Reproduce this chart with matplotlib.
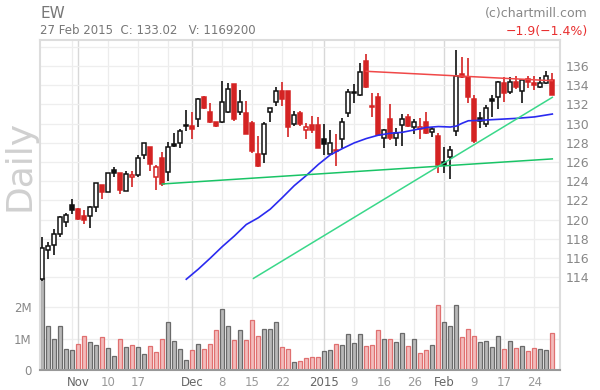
import matplotlib
matplotlib.use('Agg')
import matplotlib.pyplot as plt

# daily bars, 24 Oct 2014 .. 27 Feb 2015 (index 0..85)
opens = [113.8, 116.81, 117.33, 118.47, 119.79, 121.53, 121.11, 120.38, 120.42, 121.35,
         123.61, 122.92, 125.17, 124.82, 123.02, 124.41, 124.65, 126.7, 127.6, 124.41,
         126.39, 124.93, 127.84, 127.95, 129.75, 129.75, 130.45, 132.74, 131.25, 130.2,
         130.13, 131.24, 134.13, 131.18, 131.11, 130.03, 126.84, 126.8, 131.18, 132.29,
         133.4, 133.4, 129.93, 131.07, 129.3, 129.86, 129.86, 128.36, 126.8, 127.3,
         128.36, 131.14, 133.22, 132.98, 136.52, 131.85, 132.74, 128.54, 130.45, 128.54,
         129.86, 130.72, 129.61, 129.4, 130.2, 129.1, 128.71, 125.98, 126.56, 129.23,
         135.17, 134.89, 132.53, 130.55, 129.93, 132.53, 132.81, 134.2, 133.33, 134.37,
         133.43, 134.61, 134.2, 133.78, 134.2, 134.54]
highs = [118.15, 117.67, 118.99, 120.38, 120.73, 122.12, 121.18, 121.01, 121.42, 123.78,
         123.61, 124.9, 125.52, 124.82, 125.07, 125.1, 126.73, 128.02, 127.6, 125.66,
         127.05, 128.09, 128.99, 129.41, 131.42, 131.25, 132.63, 132.88, 132.18, 130.2,
         134.47, 134.2, 134.13, 133.5, 132.36, 130.27, 128.71, 130.17, 131.59, 133.85,
         134.37, 133.4, 131.31, 131.31, 130.03, 130.79, 130.65, 129.96, 129.34, 128.89,
         130.55, 133.57, 134.13, 136.35, 137.25, 133.2, 133.2, 129.41, 132.04, 129.51,
         131.0, 131.0, 130.51, 130.55, 131.25, 129.68, 129.06, 127.6, 127.67, 137.67,
         136.97, 136.87, 132.98, 131.17, 131.94, 132.98, 134.4, 134.82, 134.82, 134.96,
         134.61, 135.0, 134.99, 134.82, 135.5, 135.24]
lows = [113.65, 115.87, 116.29, 118.23, 119.27, 120.56, 119.97, 119.55, 119.17, 120.83,
        122.19, 122.9, 124.48, 122.67, 123.0, 123.44, 124.48, 126.28, 125.1, 123.09,
        123.51, 124.06, 127.6, 127.43, 129.27, 128.43, 129.62, 131.49, 130.03, 129.62,
        130.03, 131.14, 130.31, 130.9, 128.89, 126.91, 125.52, 125.87, 130.2, 131.87,
        131.87, 128.64, 129.75, 129.75, 128.36, 129.06, 127.43, 126.73, 126.73, 125.59,
        127.5, 130.72, 132.11, 132.9, 133.7, 130.65, 128.71, 127.43, 128.3, 127.67,
        127.67, 129.62, 128.92, 128.43, 128.92, 128.57, 124.9, 124.9, 124.2, 128.75,
        134.79, 132.11, 127.95, 129.51, 129.62, 130.72, 131.49, 132.22, 133.08, 133.6,
        132.11, 133.67, 133.5, 133.67, 134.09, 132.98]
closes = [117.02, 117.23, 118.47, 120.24, 120.49, 121.01, 120.07, 119.97, 121.28, 123.78,
          122.88, 124.82, 124.89, 123.09, 124.72, 124.65, 126.39, 128.02, 125.76, 125.52,
          123.72, 127.6, 127.67, 129.27, 129.78, 129.48, 132.53, 131.59, 130.13, 129.75,
          132.22, 133.57, 130.48, 132.25, 128.95, 127.18, 125.59, 129.93, 131.59, 133.4,
          132.56, 129.68, 130.86, 129.96, 129.61, 129.34, 127.5, 127.84, 127.95, 127.2,
          130.13, 133.26, 133.32, 135.41, 133.78, 131.75, 128.78, 129.34, 128.54, 128.99,
          130.45, 129.75, 130.2, 129.7, 128.99, 129.41, 125.65, 125.72, 127.25, 134.96,
          134.89, 132.74, 128.23, 130.3, 131.66, 132.4, 134.37, 133.15, 134.3, 133.85,
          134.54, 134.37, 134.05, 134.26, 134.92, 133.02]
volumes = [2.95, 1.4, 1.0, 1.4, 0.67, 0.65, 0.83, 1.08, 0.88, 0.8,
           1.05, 0.7, 0.45, 0.98, 0.73, 0.8, 0.73, 0.5, 0.77, 0.57,
           0.98, 1.52, 0.92, 0.67, 0.32, 0.63, 0.82, 0.67, 0.82, 1.28,
           1.93, 1.4, 0.95, 1.27, 0.95, 1.58, 1.08, 1.3, 1.3, 1.52,
           0.73, 0.67, 0.25, 0.27, 0.37, 0.4, 0.4, 0.6, 0.63, 0.82,
           0.79, 1.14, 0.85, 1.14, 0.76, 0.79, 1.27, 0.98, 0.98, 0.88,
           1.17, 0.76, 0.98, 0.53, 0.63, 0.79, 2.06, 1.52, 1.39, 2.06,
           1.04, 1.3, 1.07, 0.88, 0.91, 0.72, 1.07, 0.66, 0.91, 0.69,
           0.76, 0.6, 0.69, 0.66, 0.63, 1.17]  # millions

tick_idx = [6, 11, 16, 25, 30, 35, 40, 47, 52, 57, 62, 67, 72, 77, 82]
tick_lbl = ['Nov', '10', '17', 'Dec', '8', '15', '22', '2015', '9', '16', '26', 'Feb', '9', '17', '24']
month_idx = [6, 25, 47, 67]
week_idx = [5, 11, 16, 21, 30, 35, 40, 45, 52, 57, 62, 72, 77, 82]

# moving average
ma_idx = [24, 26, 28, 30, 32, 34, 36, 38, 40, 42, 44, 46, 48, 50, 52, 54, 56, 58, 60,
          62, 64, 66, 68, 69, 70, 71, 73, 76, 79, 82, 85]
ma_val = [113.8, 114.85, 116.0, 117.2, 118.3, 119.5, 120.2, 121.1, 122.3, 123.55, 124.6,
          125.75, 126.75, 127.4, 128.0, 128.45, 128.8, 129.0, 129.1, 129.35, 129.6, 129.7,
          129.65, 129.75, 130.05, 130.3, 130.35, 130.45, 130.55, 130.7, 131.0]

# trend lines (start/end index, price)
res_x, res_y = [54, 85], [135.45, 134.47]
sup1_x, sup1_y = [20, 85], [123.72, 126.33]
sup2_x, sup2_y = [35.2, 85], [113.89, 132.74]

RED = '#d42323'
BLACK = '#111111'

fig = plt.figure(figsize=(6, 3.9), dpi=100)
ax = fig.add_axes([40 / 600, 20 / 390, 520 / 600, 330 / 390])
vax = ax.twinx()
ax.set_zorder(2)
vax.set_zorder(1)
ax.patch.set_visible(False)

n = len(closes)
ax.set_xlim(-0.38, 86.28)
ax.set_ylim(104.35, 138.71)
vax.set_ylim(0, 330 / 31.5)

# grid
for lvl in range(114, 139, 2):
    ax.axhline(lvl, color='#eeeeee', lw=0.9, zorder=0)
for lvl in [1, 2]:
    vax.axhline(lvl, color='#eeeeee', lw=0.9, zorder=0)
for i in week_idx:
    vax.axvline(i, color='#ececec', lw=0.9, zorder=0)
for i in month_idx:
    vax.axvline(i, color='#d8d8d8', lw=1.0, zorder=0)

# volume
for i in range(n):
    up = i == 0 or closes[i] >= closes[i - 1]
    vax.bar(i, volumes[i], width=0.72,
            facecolor='#b8b8b8' if up else '#f3bcbc',
            edgecolor='#6a6a6a' if up else '#e07070', lw=0.9, zorder=2)

# candles
for i in range(n):
    up = i == 0 or closes[i] >= closes[i - 1]
    c = BLACK if up else RED
    fill = 'white' if closes[i] > opens[i] else c
    ax.vlines(i, lows[i], highs[i], color=c, lw=1.2, zorder=3)
    h = max(abs(closes[i] - opens[i]), 0.06)
    ax.bar(i, h, bottom=min(opens[i], closes[i]), width=0.72,
           facecolor=fill, edgecolor=c, lw=1.1, zorder=4)

ax.plot(ma_idx, ma_val, color='#2a2af0', lw=1.2, zorder=5)
ax.plot(res_x, res_y, color='#f04848', lw=1.1, zorder=5)
ax.plot(sup1_x, sup1_y, color='#19c466', lw=1.1, zorder=5)
ax.plot(sup2_x, sup2_y, color='#3ad88a', lw=1.1, zorder=5)

# axes / ticks
ax.yaxis.tick_right()
ax.set_yticks(range(114, 137, 2))
ax.set_yticklabels([str(v) for v in range(114, 137, 2)])
ax.tick_params(axis='y', length=0, pad=4, labelsize=9, labelcolor='#888888')
ax.set_xticks(tick_idx)
ax.set_xticklabels(tick_lbl)
ax.tick_params(axis='x', length=0, pad=4, labelsize=8.5)
for lab, i in zip(ax.get_xticklabels(), tick_idx):
    lab.set_color('#666666' if i in month_idx else '#999999')

vax.yaxis.tick_left()
vax.set_yticks([0, 1, 2])
vax.set_yticklabels(['0', '1M', '2M'])
vax.tick_params(axis='y', length=0, pad=6, labelsize=8.5, labelcolor='#888888')

for s in vax.spines.values():
    s.set_visible(False)
for side in ['top', 'left', 'right']:
    ax.spines[side].set_color('#dddddd')
    ax.spines[side].set_linewidth(1.5)
ax.spines['bottom'].set_color('#999999')
ax.spines['bottom'].set_linewidth(1.5)

fig.text(20 / 600, 1 - 165 / 390, 'Daily', rotation=90, fontsize=26,
         color='#d0d0d0', ha='center', va='center')
fig.text(40 / 600, 1 - 13 / 390, 'EW', fontsize=11, color='#777777', va='center')
fig.text(40 / 600, 1 - 31 / 390, '27 Feb 2015  C: 133.02   V: 1169200',
         fontsize=8.5, color='#777777', va='center')
fig.text(588 / 600, 1 - 13 / 390, '(c)chartmill.com', fontsize=9,
         color='#888888', ha='right', va='center')
fig.text(588 / 600, 1 - 31 / 390, '\u22121.9(\u22121.4%)', fontsize=9,
         color='#e83030', ha='right', va='center')

fig.savefig('out.png', dpi=100)
